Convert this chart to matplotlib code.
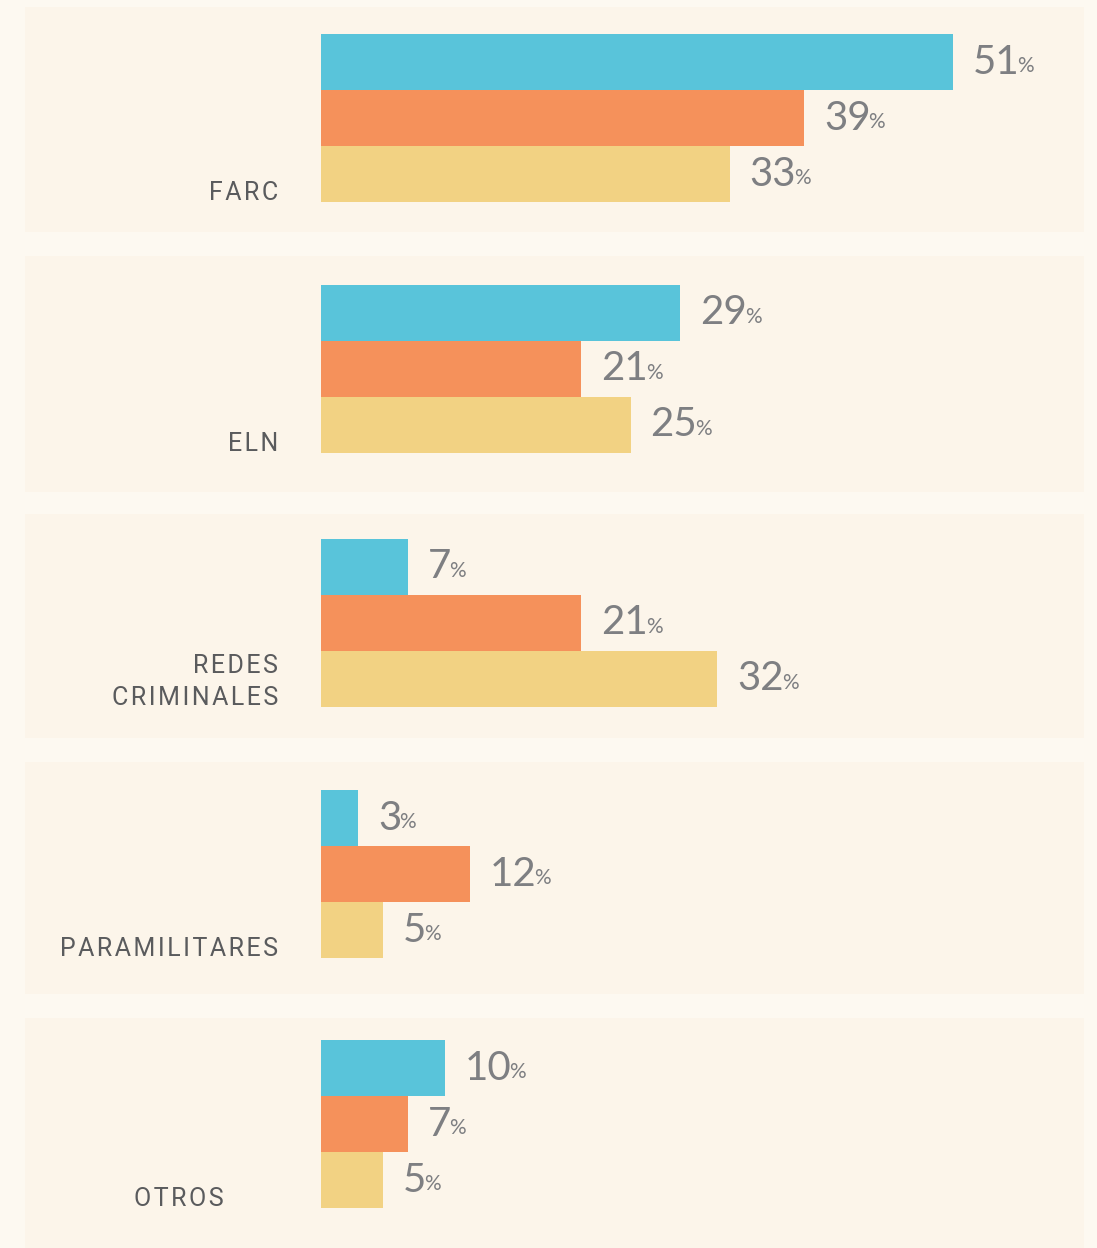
import matplotlib.pyplot as plt
from matplotlib.patches import Rectangle

# data
grupos = ["FARC", "ELN", "REDES\nCRIMINALES", "PARAMILITARES", "OTROS"]
serie_azul = [51, 29, 7, 3, 10]
serie_naranja = [39, 21, 21, 12, 7]
serie_amarilla = [33, 25, 32, 5, 5]

colores = ["#59c4da", "#f5915b", "#f2d283"]
fondo = "#fdf9f1"
fondo_panel = "#fcf5ea"
gris_num = "#7e7f82"
gris_txt = "#5a5b5d"

# layout in pixels
W, H = 1097, 1248
px = 12.39   # pixels per percentage point
x0 = 321     # bar origin
panel_top = [7, 256, 514, 762, 1018]
panel_bot = [232, 492, 738, 994, 1248]
bar_top = [34, 285, 539, 790, 1040]
bar_h = 56
label_right = [278, 278, 278, 278, 224]


def to_x(p):
    return (p - x0) / px


def espaciado(texto):
    # hair spaces between letters to mimic the tracking of the original
    return "\n".join("\u200a".join(linea) for linea in texto.split("\n"))


fig = plt.figure(figsize=(W / 100, H / 100), dpi=100)
fig.patch.set_facecolor(fondo)
ax = fig.add_axes([0, 0, 1, 1])
ax.set_xlim(to_x(0), to_x(W))
ax.set_ylim(H, 0)
ax.axis("off")

series = [serie_azul, serie_naranja, serie_amarilla]

for g, nombre in enumerate(grupos):
    ax.add_patch(Rectangle((to_x(25), panel_top[g]), to_x(1084) - to_x(25),
                           panel_bot[g] - panel_top[g], facecolor=fondo_panel,
                           edgecolor="none", zorder=0))
    for s, vals in enumerate(series):
        y = bar_top[g] + s * bar_h
        ax.barh(y, vals[g], height=bar_h, left=0, align="edge",
                color=colores[s], zorder=2)
        t = ax.text(vals[g] + 1.6, y + bar_h / 2, str(vals[g]),
                    ha="left", va="center", fontsize=29, color=gris_num,
                    family="Lato", zorder=3)
        ax.annotate("%", xy=(1, 0), xycoords=t, xytext=(-1.5, 3),
                    textcoords="offset points", ha="left", va="bottom",
                    fontsize=15, color=gris_num, family="Lato")
    ax.text(to_x(label_right[g]), bar_top[g] + 3 * bar_h + 3, espaciado(nombre),
            ha="right", va="bottom", multialignment="right", fontsize=18,
            color=gris_txt, family=["Roboto", "DejaVu Sans"], linespacing=1.4,
            zorder=3)

fig.savefig("out.png", dpi=100, facecolor=fondo)
